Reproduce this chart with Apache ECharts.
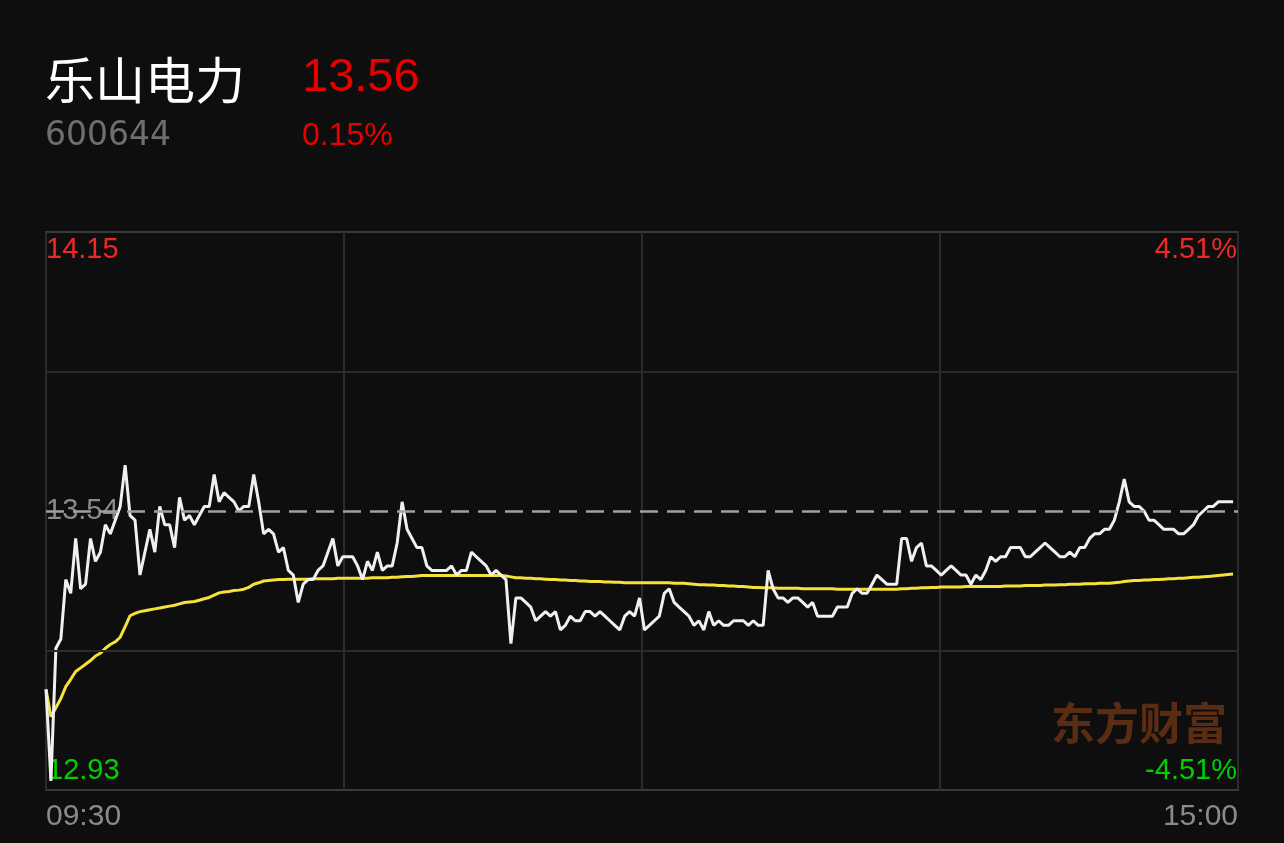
<!DOCTYPE html>
<html><head><meta charset="utf-8">
<script src="https://cdn.jsdelivr.net/npm/echarts@6/dist/echarts.min.js"></script>
<style>html,body{margin:0;padding:0;background:#0e0e0e;}#c{width:1284px;height:843px;}</style>
</head><body><div id="c"></div>
<script>
const stockName = '乐山电力';
const stockCode = '600644';
const lastPrice = '13.56';
const lastChange = '0.15%';
const watermark = '东方财富';
const timeLabels = ['09:30', '15:00'];
const priceTickLabels = ['14.15', '13.54', '12.93'];
const pctTickLabels = ['4.51%', '-4.51%'];
const priceMax = 14.15, prevClose = 13.54, priceMin = 12.93;
const slotCount = 241;

const price = [
13.15,12.95,13.24,13.26,13.39,13.36,13.48,13.37,13.38,13.48,
13.43,13.45,13.51,13.49,13.52,13.55,13.64,13.53,13.52,13.40,
13.45,13.50,13.45,13.55,13.51,13.51,13.46,13.57,13.52,13.53,
13.51,13.53,13.55,13.55,13.62,13.56,13.58,13.57,13.56,13.54,
13.55,13.55,13.62,13.56,13.49,13.50,13.49,13.45,13.46,13.41,
13.40,13.34,13.38,13.39,13.39,13.41,13.42,13.45,13.48,13.42,
13.44,13.44,13.44,13.42,13.39,13.43,13.41,13.45,13.41,13.42,
13.42,13.47,13.56,13.50,13.48,13.46,13.46,13.42,13.41,13.41,
13.41,13.41,13.42,13.40,13.41,13.41,13.45,13.44,13.43,13.42,
13.40,13.41,13.40,13.39,13.25,13.35,13.35,13.34,13.33,13.30,
13.31,13.32,13.31,13.32,13.28,13.29,13.31,13.30,13.30,13.32,
13.32,13.31,13.32,13.31,13.30,13.29,13.28,13.31,13.32,13.31,
13.35,13.28,13.29,13.30,13.31,13.36,13.37,13.34,13.33,13.32,
13.31,13.29,13.30,13.28,13.32,13.29,13.30,13.29,13.29,13.30,
13.30,13.30,13.29,13.30,13.29,13.29,13.41,13.37,13.35,13.35,
13.34,13.35,13.35,13.34,13.33,13.34,13.31,13.31,13.31,13.31,
13.33,13.33,13.33,13.36,13.37,13.36,13.36,13.38,13.40,13.39,
13.38,13.38,13.38,13.48,13.48,13.43,13.46,13.47,13.42,13.42,
13.41,13.40,13.41,13.42,13.41,13.40,13.40,13.38,13.40,13.39,
13.41,13.44,13.43,13.44,13.44,13.46,13.46,13.46,13.44,13.44,
13.45,13.46,13.47,13.46,13.45,13.44,13.44,13.45,13.44,13.46,
13.46,13.48,13.49,13.49,13.50,13.50,13.52,13.56,13.61,13.56,
13.55,13.55,13.54,13.52,13.52,13.51,13.50,13.50,13.50,13.49,
13.49,13.50,13.51,13.53,13.54,13.55,13.55,13.56,13.56,13.56,
13.56
];

const avgPrice = [
13.150,13.090,13.110,13.130,13.156,13.172,13.189,13.197,13.205,13.213,
13.223,13.229,13.240,13.248,13.254,13.264,13.287,13.311,13.316,13.320,
13.322,13.324,13.326,13.328,13.330,13.332,13.334,13.337,13.340,13.341,
13.342,13.345,13.348,13.351,13.356,13.361,13.363,13.364,13.366,13.367,
13.369,13.373,13.380,13.383,13.387,13.388,13.389,13.390,13.390,13.391,
13.391,13.391,13.391,13.391,13.392,13.392,13.392,13.392,13.392,13.393,
13.393,13.393,13.393,13.393,13.393,13.393,13.394,13.394,13.394,13.394,
13.395,13.395,13.396,13.397,13.397,13.398,13.399,13.399,13.399,13.399,
13.399,13.399,13.399,13.399,13.399,13.399,13.399,13.399,13.399,13.399,
13.399,13.399,13.399,13.398,13.396,13.394,13.394,13.393,13.393,13.392,
13.392,13.391,13.390,13.390,13.389,13.389,13.388,13.388,13.387,13.387,
13.386,13.386,13.386,13.385,13.385,13.384,13.384,13.383,13.383,13.383,
13.383,13.383,13.383,13.383,13.383,13.383,13.383,13.382,13.382,13.382,
13.381,13.380,13.379,13.379,13.378,13.378,13.377,13.377,13.376,13.376,
13.375,13.375,13.374,13.373,13.373,13.372,13.372,13.372,13.371,13.371,
13.371,13.371,13.371,13.370,13.370,13.370,13.370,13.370,13.370,13.370,
13.369,13.369,13.369,13.369,13.369,13.369,13.369,13.369,13.369,13.369,
13.369,13.369,13.369,13.370,13.370,13.371,13.371,13.372,13.372,13.373,
13.373,13.374,13.374,13.374,13.374,13.374,13.375,13.375,13.375,13.375,
13.375,13.375,13.375,13.375,13.376,13.376,13.376,13.376,13.377,13.377,
13.377,13.377,13.378,13.378,13.378,13.379,13.379,13.380,13.380,13.380,
13.381,13.381,13.381,13.382,13.382,13.382,13.383,13.384,13.386,13.387,
13.388,13.388,13.389,13.389,13.390,13.390,13.391,13.392,13.392,13.393,
13.393,13.394,13.395,13.395,13.396,13.397,13.398,13.399,13.400,13.401,
13.402
];

const chart = echarts.init(document.getElementById('c'), null, {renderer: 'canvas'});
const quarter = (priceMax - priceMin) / 4;
const LAT = '"Liberation Sans", Arial, sans-serif';

chart.setOption({
  backgroundColor: '#0e0e0e',
  animation: false,
  grid: {left: 46, right: 46, top: 232, bottom: 53, show: true, borderColor: '#3a3a3a', borderWidth: 2, backgroundColor: 'transparent'},
  xAxis: {
    type: 'value', min: 0, max: slotCount, interval: slotCount / 4,
    axisLine: {show: false}, axisTick: {show: false},
    splitLine: {show: true, lineStyle: {color: '#2b2b2b', width: 2}},
    axisLabel: {
      show: true, margin: 12, color: '#8a8a8a', fontSize: 30, fontFamily: LAT,
      showMinLabel: true, showMaxLabel: true,
      alignMinLabel: 'left', alignMaxLabel: 'right',
      formatter: function (v) {
        if (v === 0) return timeLabels[0];
        if (Math.abs(v - slotCount) < 1e-6) return timeLabels[1];
        return '';
      }
    }
  },
  yAxis: {
    type: 'value', min: priceMin, max: priceMax, show: false,
    splitLine: {show: false}
  },
  series: [
    {
      type: 'line', data: [], silent: true, z: 1,
      markLine: {
        silent: true, symbol: ['none', 'none'], label: {show: false}, animation: false, precision: 6,
        data: [
          {yAxis: priceMin + quarter * 3, lineStyle: {color: '#2b2b2b', width: 2, type: 'solid'}},
          {yAxis: priceMin + quarter, lineStyle: {color: '#2b2b2b', width: 2, type: 'solid'}},
          {yAxis: prevClose, lineStyle: {color: '#a0a0a0', width: 2.5, type: [18, 9]}}
        ]
      }
    },
    {
      name: '均价', type: 'line', showSymbol: false, symbol: 'none', z: 3,
      lineStyle: {color: '#f6e03a', width: 3},
      data: avgPrice.map((v, i) => [i, v])
    },
    {
      name: '价格', type: 'line', showSymbol: false, symbol: 'none', z: 4,
      lineStyle: {color: '#f0f0f0', width: 3},
      data: price.map((v, i) => [i, v])
    }
  ]
});

const yTop = chart.convertToPixel({yAxisIndex: 0}, priceMax);
const yMid = chart.convertToPixel({yAxisIndex: 0}, prevClose);
const yBot = chart.convertToPixel({yAxisIndex: 0}, priceMin);
const xLeft = chart.convertToPixel({xAxisIndex: 0}, 0);
const xRight = chart.convertToPixel({xAxisIndex: 0}, slotCount);

function txt(text, x, y, fill, font, align, z) {
  return {type: 'text', z: z || 0, silent: true,
    style: {text: text, x: x, y: y, fill: fill, font: font, textAlign: align || 'left', textVerticalAlign: 'middle'}};
}

chart.setOption({
  graphic: [
    txt(stockName, 45, 80, '#ffffff', '50px "Noto Sans CJK SC", sans-serif'),
    txt(lastPrice, 302, 78.5, '#e80000', '47px ' + LAT),
    txt(stockCode, 45, 136.5, '#6e6e6e', '33px "DejaVu Sans", sans-serif'),
    txt(lastChange, 302, 136.5, '#e80000', '32px ' + LAT),
    txt(priceTickLabels[0], xLeft, yTop + 18, '#f02828', '29px ' + LAT),
    txt(pctTickLabels[0], xRight - 1, yTop + 18, '#f02828', '29px ' + LAT, 'right'),
    txt(priceTickLabels[1], xLeft, yMid, '#8a8a8a', '29px ' + LAT),
    txt(priceTickLabels[2], xLeft + 1, yBot - 19, '#00d000', '29px ' + LAT),
    txt(pctTickLabels[1], xRight - 1, yBot - 19, '#00d000', '29px ' + LAT, 'right'),
    txt(watermark, 1051, 723, '#5a2c12', 'bold 44px "Noto Sans CJK SC", sans-serif')
  ]
});
</script></body></html>
